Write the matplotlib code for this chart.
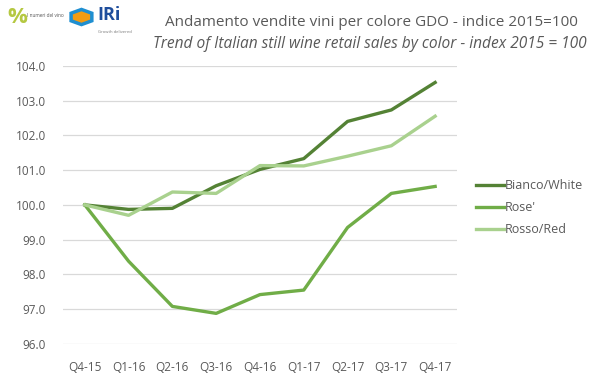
import matplotlib.pyplot as plt
from matplotlib.patches import RegularPolygon

quarters = ["Q4-15", "Q1-16", "Q2-16", "Q3-16", "Q4-16", "Q1-17", "Q2-17", "Q3-17", "Q4-17"]
bianco = [100.0, 99.87, 99.9, 100.55, 101.02, 101.33, 102.4, 102.73, 103.52]
rose = [100.0, 98.38, 97.08, 96.88, 97.42, 97.55, 99.35, 100.33, 100.53]
rosso = [100.0, 99.7, 100.37, 100.33, 101.13, 101.12, 101.4, 101.7, 102.55]

plt.rcParams['font.family'] = ['Open Sans', 'DejaVu Sans']
grey = '#595959'

fig = plt.figure(figsize=(5.99, 3.78), dpi=100)
ax = fig.add_axes([0.105, 0.09, 0.658, 0.736])

x = range(len(quarters))
ax.plot(x, bianco, color='#548235', lw=2.4, label='Bianco/White')
ax.plot(x, rose, color='#70AD47', lw=2.4, label="Rose'")
ax.plot(x, rosso, color='#A9D18E', lw=2.4, label='Rosso/Red')

ax.set_xlim(-0.5, len(quarters) - 0.5)
ax.set_ylim(96, 104)
ax.set_yticks(range(96, 105))
ax.set_yticklabels([f"{v:.1f}" for v in range(96, 105)])
ax.set_xticks(list(x))
ax.set_xticklabels(quarters)
ax.tick_params(length=0, colors=grey, labelsize=8.5, pad=12)
ax.tick_params(axis='y', pad=12)
ax.grid(axis='y', color='#d9d9d9', lw=0.9)
ax.set_axisbelow(True)
for s in ax.spines.values():
    s.set_visible(False)

leg = ax.legend(loc='center left', bbox_to_anchor=(1.02, 0.49), frameon=False,
                fontsize=9, handlelength=2.2, handletextpad=0.1, labelspacing=0.7)
for t in leg.get_texts():
    t.set_color(grey)

fig.text(0.62, 0.94, "Andamento vendite vini per colore GDO - indice 2015=100",
         ha='center', va='center', fontsize=11, color=grey)
fig.text(0.98, 0.883, "Trend of Italian still wine retail sales by color - index 2015 = 100",
         ha='right', va='center', fontsize=11.2, color=grey, style='italic')

# logos, roughly
fig.text(0.012, 0.955, "%", fontsize=16, color='#b5c842', va='center', fontweight='bold')
fig.text(0.045, 0.96, "I numeri del vino", fontsize=3.4, color='#555555', va='center')
fig.patches.append(RegularPolygon((0.136, 0.955), 6, radius=0.02, transform=fig.transFigure,
                                  facecolor='#f39c12', edgecolor='#1f8fd1', lw=2.5))
fig.text(0.163, 0.96, "IRi", fontsize=13, color='#1f4e9c', va='center', fontweight='bold')
fig.text(0.163, 0.915, "Growth delivered", fontsize=3, color='#777777', va='center')

plt.savefig('out.png', dpi=100)
